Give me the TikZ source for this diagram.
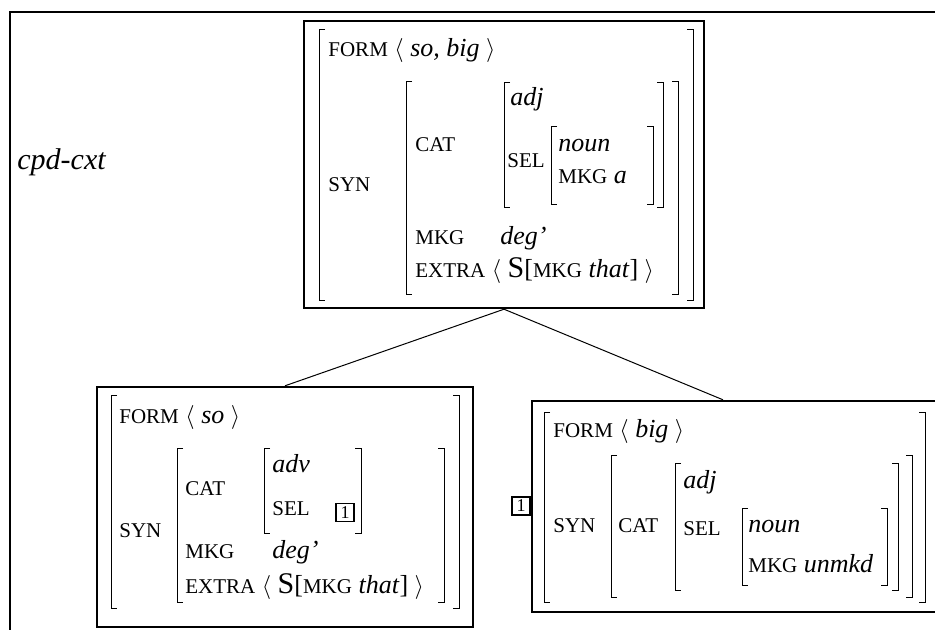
\documentclass[tikz,border=0pt]{standalone}
\usepackage{fontspec}
\setmainfont{Liberation Serif}
\newcommand\feat[1]{{\fontsize{10.5}{12}\selectfont #1}}
\newcommand\bigS{{\fontsize{15}{18}\selectfont S}}

\begin{document}
\begin{tikzpicture}[x=0.5pt,y=-0.5pt,
  every node/.style={font=\fontsize{13}{16}\selectfont},
  txt/.style={anchor=base west,inner sep=0pt},
  box/.style={draw,line width=1.2pt,inner sep=0pt},
  brk/.style={line width=0.5pt},
  tag/.style={draw,line width=0.9pt,inner sep=0pt,minimum size=9pt,font=\fontsize{9}{10}\selectfont},
  link/.style={line width=0.5pt}]
\useasboundingbox (0,0) rectangle (935,630);

% frame
\draw[line width=1.2pt] (10,650) -- (10,12) -- (950,12);
\node[txt,font=\fontsize{15}{18}\selectfont] (name) at (17,170) {\itshape cpd-cxt};

% the three signs
\node[box,minimum width=200pt,minimum height=143.5pt] (top) at (504,164.5) {};
\node[box,minimum width=188pt,minimum height=120pt] (lt) at (285,507) {};
\node[box,minimum width=205pt,minimum height=105.5pt] (rt) at (737,506.5) {};

\draw[link] (top.south) -- (lt.north);
\draw[link] (top.south) -- ([xshift=-7pt]rt.north);

% brackets
\foreach \xa/\xb/\ya/\yb in {319/693/30/300, 406/678/82/295, 504/663/83/208, 551/653/127/205,
  111/459/395/608, 177/444/448/602, 264/361/448/533,
  544/925/412/602, 611/912/455/597, 675/898/463/590, 742/887/508/585}
{
  \draw[brk] (\xa+6,\ya) -- (\xa,\ya) -- (\xa,\yb) -- (\xa+6,\yb);
  \draw[brk] (\xb-6,\ya) -- (\xb,\ya) -- (\xb,\yb) -- (\xb-6,\yb);
}

% top sign
\node[txt] (t-form) at (328,57) {\feat{FORM} $\langle$ \textit{so, big} $\rangle$};
\node[txt] (t-syn) at (328,192) {\feat{SYN}};
\node[txt] (t-cat) at (415,152) {\feat{CAT}};
\node[txt] (t-adj) at (510,106) {\textit{adj}};
\node[txt] (t-sel) at (507,168) {\feat{SEL}};
\node[txt] (t-noun) at (558,152) {\textit{noun}};
\node[txt] (t-mkga) at (558,184) {\feat{MKG} \textit{a}};
\node[txt] (t-mkg) at (415,245) {\feat{MKG}};
\node[txt] (t-deg) at (500,245) {\textit{deg'}};
\node[txt] (t-extra) at (415,278) {\feat{EXTRA} $\langle$ \bigS[\feat{MKG} \textit{that}] $\rangle$};

% left daughter
\node[txt] (l-form) at (119,423) {\feat{FORM} $\langle$ \textit{so} $\rangle$};
\node[txt] (l-syn) at (119,537) {\feat{SYN}};
\node[txt] (l-cat) at (185,495) {\feat{CAT}};
\node[txt] (l-adv) at (272,472) {\textit{adv}};
\node[txt] (l-sel) at (272,515) {\feat{SEL}};
\node[tag] (l-tag) at (345,512.5) {1};
\node[txt] (l-mkg) at (185,558) {\feat{MKG}};
\node[txt] (l-deg) at (272,558) {\textit{deg'}};
\node[txt] (l-extra) at (185,593) {\feat{EXTRA} $\langle$ \bigS[\feat{MKG} \textit{that}] $\rangle$};

% right daughter
\node[tag] (r-tag) at (521,506) {1};
\node[txt] (r-form) at (553,437) {\feat{FORM} $\langle$ \textit{big} $\rangle$};
\node[txt] (r-syn) at (553,532) {\feat{SYN}};
\node[txt] (r-cat) at (618,532) {\feat{CAT}};
\node[txt] (r-adj) at (683,488) {\textit{adj}};
\node[txt] (r-sel) at (683,535) {\feat{SEL}};
\node[txt] (r-noun) at (748,532) {\textit{noun}};
\node[txt] (r-mkg) at (748,572) {\feat{MKG} \textit{unmkd}};
\end{tikzpicture}
\end{document}
